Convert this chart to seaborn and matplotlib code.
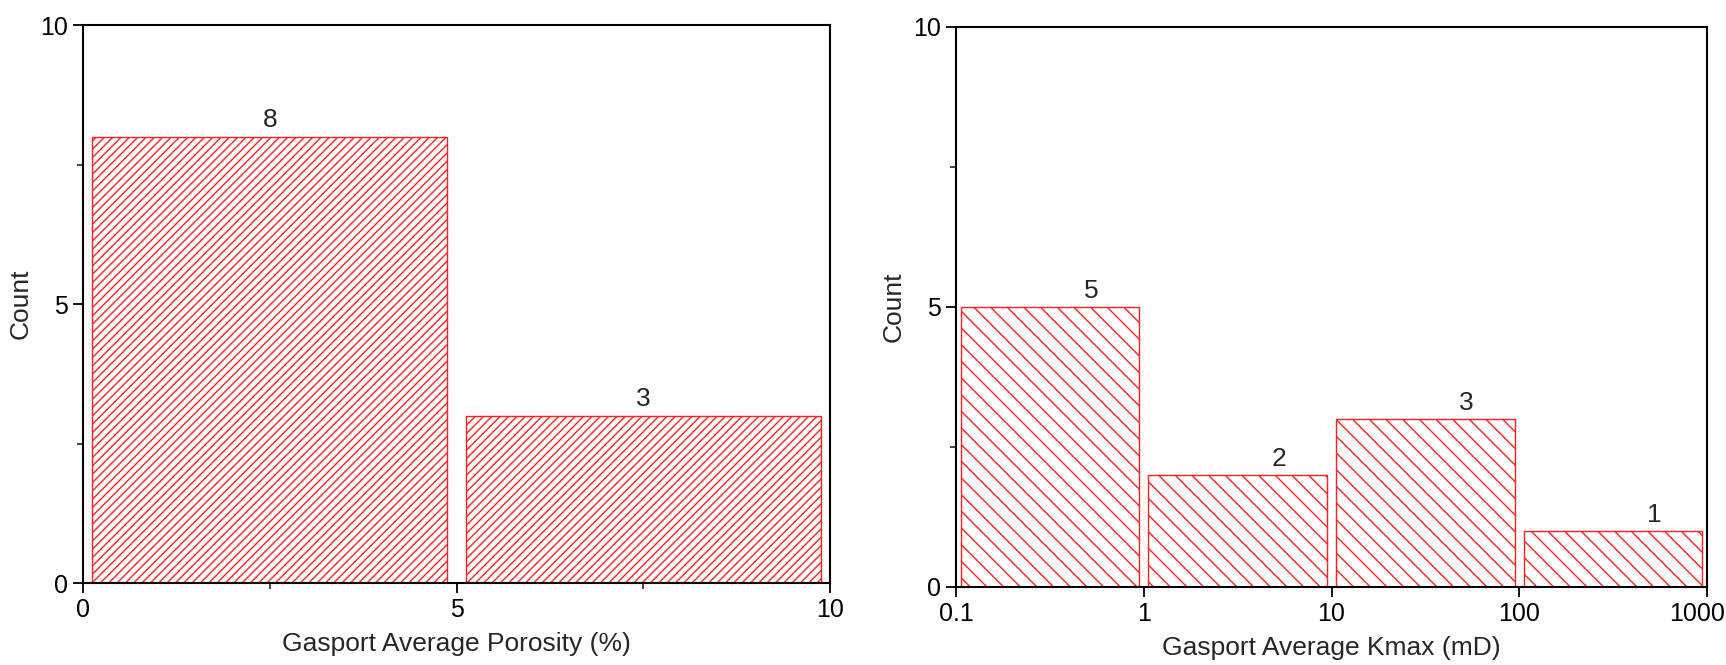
import numpy as np
import pandas as pd
import matplotlib
matplotlib.use("Agg")
import matplotlib.pyplot as plt
import matplotlib.transforms as mtransforms
import seaborn as sns

# Data
porosity_edges = [0, 5, 10]
porosity_centers = [2.5, 7.5]
porosity_counts = [8, 3]

kmax_edges = [0.1, 1, 10, 100, 1000]
kmax_centers = [0.316, 3.16, 31.6, 316]
kmax_counts = [5, 2, 3, 1]
kmax_ticklabels = ["0.1", "1", "10", "100", "1000"]

sns.set_theme(style="ticks")
plt.rcParams['font.family'] = ['Liberation Sans', 'DejaVu Sans']
plt.rcParams['hatch.color'] = '#ff2020'
plt.rcParams['hatch.linewidth'] = 1.0

fig = plt.figure(figsize=(17.26, 6.65), dpi=100)
ax1 = fig.add_axes([0.0481, 0.1233, 0.4328, 0.8391])
ax2 = fig.add_axes([0.5539, 0.1173, 0.4351, 0.8421])

df1 = pd.DataFrame({"x": porosity_centers, "w": porosity_counts})
df2 = pd.DataFrame({"x": kmax_centers, "w": kmax_counts})

sns.histplot(data=df1, x="x", weights="w", bins=porosity_edges, shrink=0.95,
             ax=ax1, color="white", edgecolor="#ff2020", linewidth=1.0, alpha=1)
sns.histplot(data=df2, x="x", weights="w", bins=len(kmax_edges) - 1,
             binrange=(np.log10(kmax_edges[0]), np.log10(kmax_edges[-1])), log_scale=True,
             ax=ax2, color="white", edgecolor="#ff2020", linewidth=1.0, alpha=1)

# shrink bars symmetrically in log space
for p in ax2.patches:
    lo, hi = np.log10(p.get_x()), np.log10(p.get_x() + p.get_width())
    c, half = (lo + hi) / 2, (hi - lo) / 2 * 0.95
    p.set_x(10 ** (c - half))
    p.set_width(10 ** (c + half) - 10 ** (c - half))

for p in ax1.patches:
    p.set_hatch('////')
for p in ax2.patches:
    p.set_hatch('\\\\')

for ax in (ax1, ax2):
    ax.bar_label(ax.containers[0], fmt="%d", fontsize=19, padding=3)
    ax.set_ylim(0, 10)
    ax.set_yticks([0, 5, 10])
    ax.set_yticks([2.5, 7.5], minor=True)
    ax.set_ylabel("Count", fontsize=19, labelpad=5)
    for s in ax.spines.values():
        s.set_visible(True)
        s.set_linewidth(1.5)
        s.set_color("black")
    ax.tick_params(which="major", direction="out", length=7, width=1.3,
                   labelsize=18, pad=4, colors="black")
    ax.tick_params(which="minor", direction="out", length=4, width=1.2)
    ax.tick_params(axis="y", right=False)
    ax.tick_params(axis="x", top=False)
    ax.grid(False)

ax1.set_xlim(0, 10)
ax1.set_xticks([0, 5, 10])
ax1.set_xticks([2.5, 7.5], minor=True)
ax1.set_xlabel("Gasport Average Porosity (%)", fontsize=19, labelpad=7)

ax2.set_xlim(kmax_edges[0], kmax_edges[-1])
ax2.set_xticks(kmax_edges)
ax2.set_xticklabels(kmax_ticklabels)
ax2.xaxis.set_minor_locator(matplotlib.ticker.NullLocator())
ax2.set_xlabel("Gasport Average Kmax (mD)", fontsize=19, labelpad=7)

# keep the last tick label inside the figure
last = ax2.get_xticklabels()[-1]
last.set_transform(last.get_transform() + mtransforms.ScaledTranslation(-10 / 100, 0, fig.dpi_scale_trans))

fig.savefig("out.png", dpi=100, facecolor="white")
